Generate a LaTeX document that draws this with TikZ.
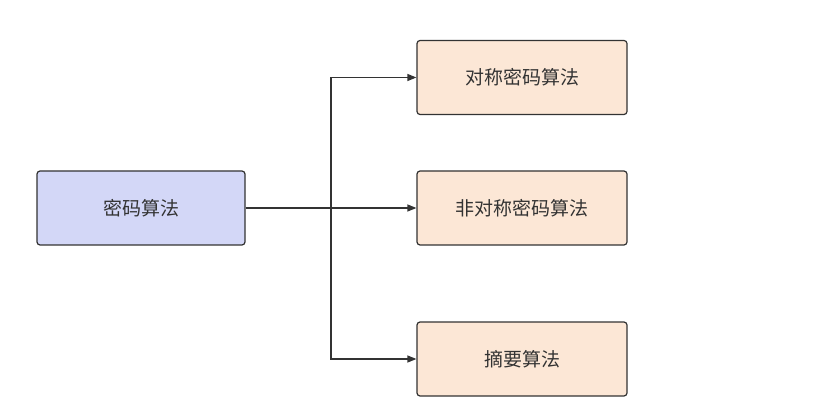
\documentclass[tikz,border=0pt]{standalone}
\usepackage{fontspec}
\setmainfont{Noto Sans CJK SC}
\usetikzlibrary{arrows.meta}
\definecolor{lb}{HTML}{D3D7F7}
\definecolor{rb}{HTML}{FCE7D6}
\definecolor{ln}{HTML}{333333}
\begin{document}
\begin{tikzpicture}[x=1pt,y=-1pt,
  box/.style={draw=ln,line width=1.2pt,rounded corners=3pt,minimum width=208pt,minimum height=74pt,font=\fontsize{19}{22}\selectfont,text=ln,anchor=center},
  conn/.style={draw=ln,line width=1.2pt,-{Triangle[length=9pt,width=7pt]}}]
\useasboundingbox (0,0) rectangle (831,409);
\node[box,fill=lb] (a) at (141,208) {密码算法};
\node[box,fill=rb,minimum width=210pt] (b) at (522,77.5) {对称密码算法};
\node[box,fill=rb,minimum width=210pt] (c) at (522,208) {非对称密码算法};
\node[box,fill=rb,minimum width=210pt] (d) at (522,359) {摘要算法};
\coordinate (j) at (331,208);
\draw[conn] (a.east) -- (c.west);
\draw[conn] (j) |- (b.west);
\draw[conn] (j) |- (d.west);
\end{tikzpicture}
\end{document}
